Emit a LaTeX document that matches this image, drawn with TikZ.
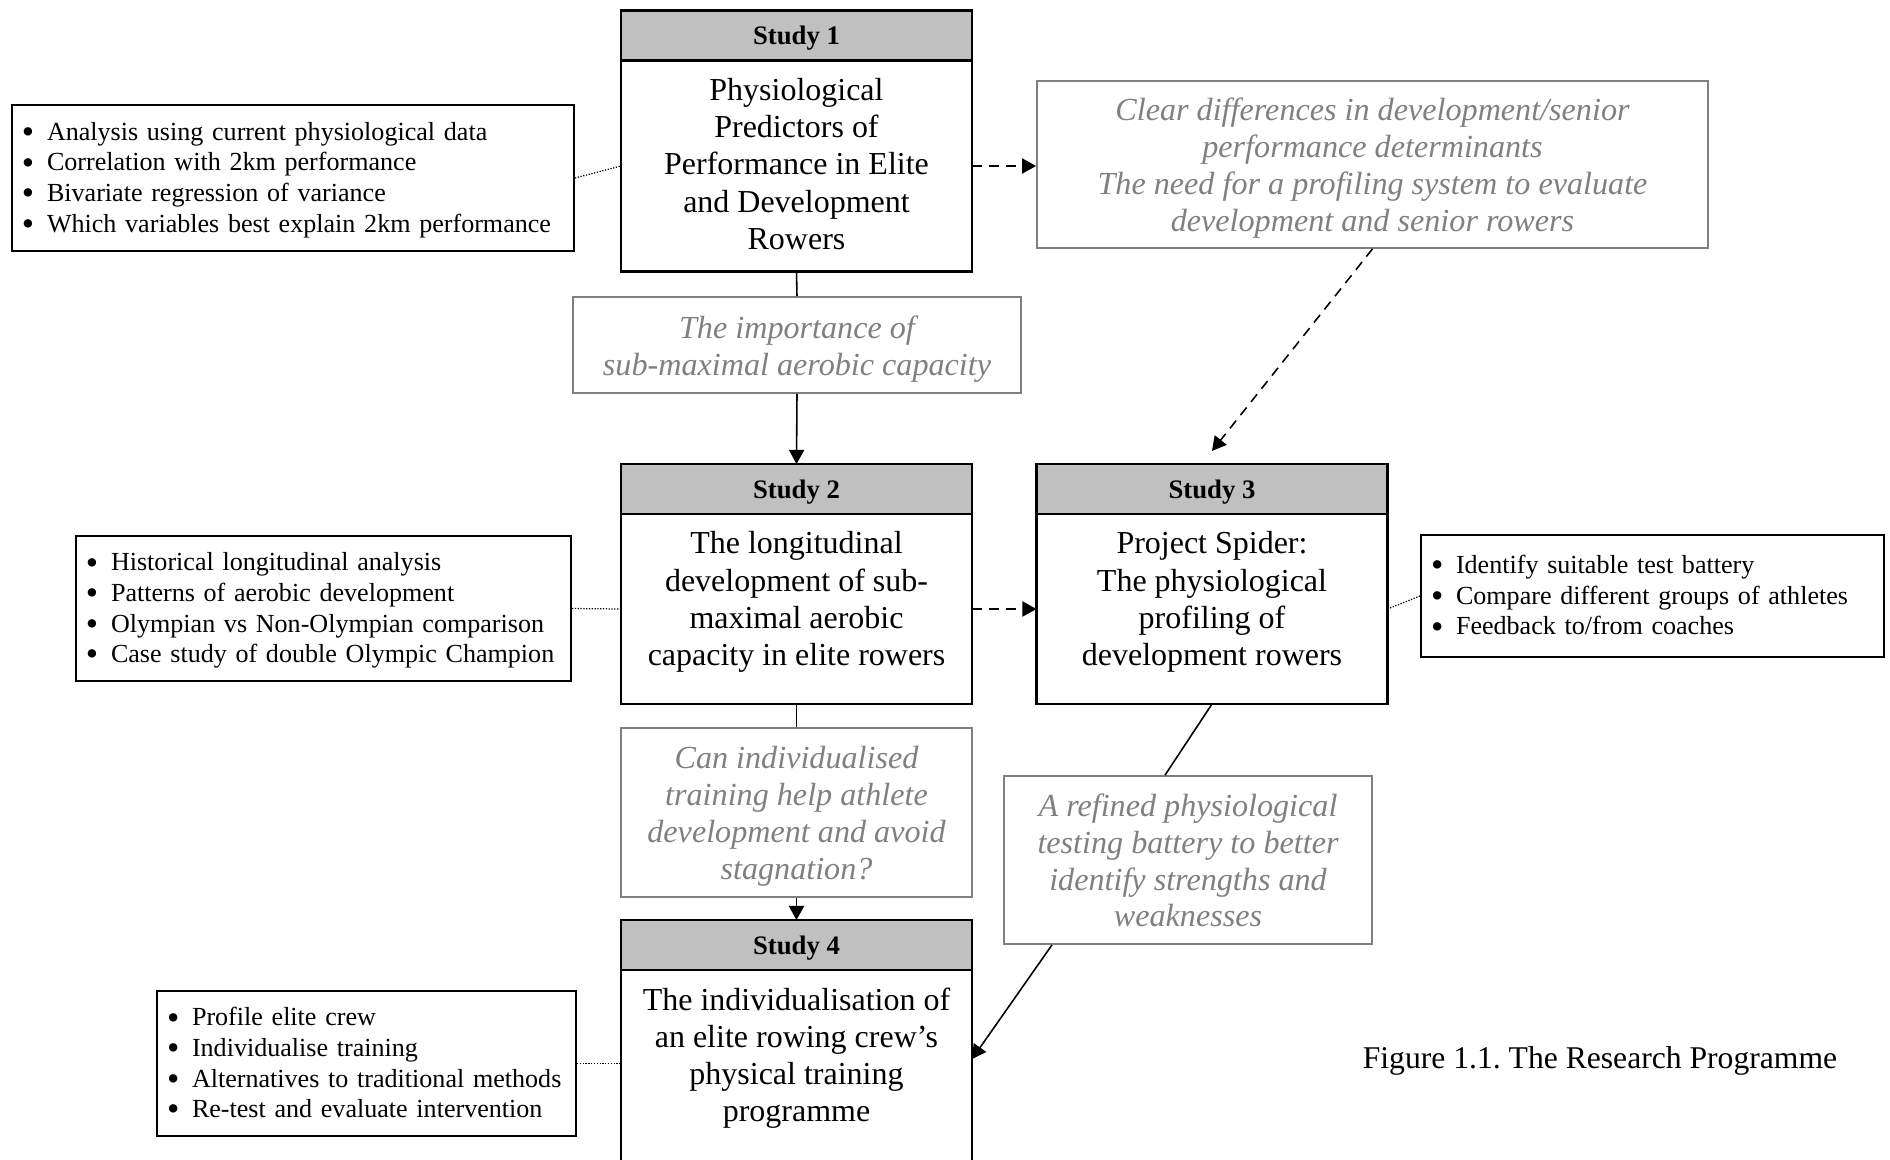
\documentclass[tikz,border=0pt]{standalone}
\usepackage{fontspec}
\setmainfont{Liberation Serif}
\usetikzlibrary{arrows.meta, positioning, calc}
\definecolor{hdrgrey}{RGB}{192,192,192}
\definecolor{notegrey}{RGB}{128,128,128}
\newcommand{\bitem}{\rule[-2pt]{0pt}{8.7pt}%
  \makebox[0.3cm][l]{\hspace{0.05cm}\raisebox{-0.9pt}{\fontsize{10}{0}\selectfont\textbullet}}}
\newcommand{\ntop}{\rule{0pt}{8.7pt}}
\newcommand{\nbot}{\rule[-2.1pt]{0pt}{0pt}}
\frenchspacing

\begin{document}
\begin{tikzpicture}[
    hdr/.style={draw, line width=0.6pt, fill=hdrgrey, outer sep=0pt, text depth=0pt,
                minimum width=3.51cm, minimum height=0.5cm,
                font=\fontsize{7.6}{8.7}\selectfont\bfseries},
    study/.style={draw, line width=0.6pt, outer sep=0pt, minimum width=3.51cm},
    stxt/.style={inner sep=0pt, align=center, font=\fontsize{9.1}{10.6}\selectfont},
    note/.style={draw=notegrey, line width=0.5pt, inner sep=0pt, align=center,
                 text=notegrey, font=\fontsize{9.15}{10.5}\selectfont\itshape},
    pts/.style={draw, line width=0.6pt, align=left, inner xsep=0.05cm,
                font=\fontsize{7.42}{8.7}\selectfont},
    link/.style={line width=0.45pt},
    fwd/.style={-{Triangle[width=4.3pt,length=4pt]}, line width=0.45pt},
    dfwd/.style={fwd, dash pattern=on 2.8pt off 2pt},
    aside/.style={line width=0.35pt, dash pattern=on 0.35pt off 0.45pt}
  ]
    \useasboundingbox (0,0) rectangle (18.9,-11.6);

    % studies
    \node[hdr] (s1h) at (7.965,-0.355) {Study 1};
    \node[study, minimum height=2.11cm, below=0pt of s1h] (s1) {};
    \node[stxt, below=0.17cm of s1.north] (s1t)
      {Physiological\\Predictors of\\Performance in Elite\\and Development\\Rowers};

    \node[hdr] (s2h) at (7.965,-4.89) {Study 2};
    \node[study, minimum height=1.9cm, below=0pt of s2h] (s2) {};
    \node[stxt, below=0.17cm of s2.north] (s2t)
      {The longitudinal\\development of sub-\\maximal aerobic\\capacity in elite rowers};

    \node[hdr] (s3h) at (12.12,-4.89) {Study 3};
    \node[study, minimum height=1.9cm, below=0pt of s3h] (s3) {};
    \node[stxt, below=0.17cm of s3.north] (s3t)
      {Project Spider:\\The physiological\\profiling of\\development rowers};

    \node[hdr] (s4h) at (7.965,-9.45) {Study 4};
    \node[study, minimum height=3cm, below=0pt of s4h] (s4) {};
    \node[stxt, below=0.17cm of s4.north] (s4t)
      {The individualisation of\\an elite rowing crew’s\\physical training\\programme};

    % findings
    \node[note, minimum width=6.71cm, minimum height=1.67cm] (clear) at (13.725,-1.645)
      {\ntop Clear differences in development/senior\\performance determinants\\The need for a profiling system to evaluate\\development and senior rowers\nbot};
    \node[note, minimum width=4.48cm, minimum height=0.96cm] (imp) at (7.97,-3.45)
      {\ntop The importance of\\sub-maximal aerobic capacity\nbot};
    \node[note, minimum width=3.51cm, minimum height=1.69cm] (can) at (7.965,-8.125)
      {\ntop Can individualised\\training help athlete\\development and avoid\\stagnation?\nbot};
    \node[note, minimum width=3.68cm, minimum height=1.68cm] (ref) at (11.88,-8.6)
      {\ntop A refined physiological\\testing battery to better\\identify strengths and\\weaknesses\nbot};

    % aims
    \node[pts, text width=5.52cm, minimum height=1.44cm] (b1) at (2.93,-1.78)
      {\bitem Analysis using current physiological data\\\bitem Correlation with 2km performance\\\bitem Bivariate regression of variance\\\bitem Which variables best explain 2km performance};
    \node[pts, text width=4.85cm, minimum height=1.45cm] (b2) at (3.235,-6.085)
      {\bitem Historical longitudinal analysis\\\bitem Patterns of aerobic development\\\bitem Olympian vs Non-Olympian comparison\\\bitem Case study of double Olympic Champion};
    \node[pts, text width=4.53cm, minimum height=1.22cm] (b3) at (16.525,-5.96)
      {\bitem Identify suitable test battery\\\bitem Compare different groups of athletes\\\bitem Feedback to/from coaches};
    \node[pts, text width=4.09cm, minimum height=1.43cm] (b4) at (3.665,-10.635)
      {\bitem Profile elite crew\\\bitem Individualise training\\\bitem Alternatives to traditional methods\\\bitem Re-test and evaluate intervention};

    \node[font=\fontsize{9}{10.5}\selectfont] (cap) at (16.0,-10.605)
      {Figure 1.1. The Research Programme};

    % connectors
    \draw[link] (s1.south) -- (imp.north);
    \draw[fwd] (imp.south) -- (s2h.north);
    \draw[link] (s2.south) -- (can.north);
    \draw[fwd] (can.south) -- (s4h.north);
    \draw[dfwd] (s1.east) -- (s1.east -| clear.west);
    \draw[dfwd] (clear.south) -- ([yshift=0.13cm]s3h.north);
    \draw[dfwd] (s2.east) -- (s3.west);
    \draw[link] (s3.south) -- ([xshift=-0.23cm]ref.north);
    \draw[fwd] ([xshift=-1.36cm]ref.south) -- ([yshift=-0.89cm]s4.north east);

    \draw[aside] (b1.east) -- (s1.west);
    \draw[aside] (b2.east) -- (s2.west);
    \draw[aside] (s3.east) -- (b3.west);
    \draw[aside] (b4.east) -- (b4.east -| s4.west);
\end{tikzpicture}
\end{document}
